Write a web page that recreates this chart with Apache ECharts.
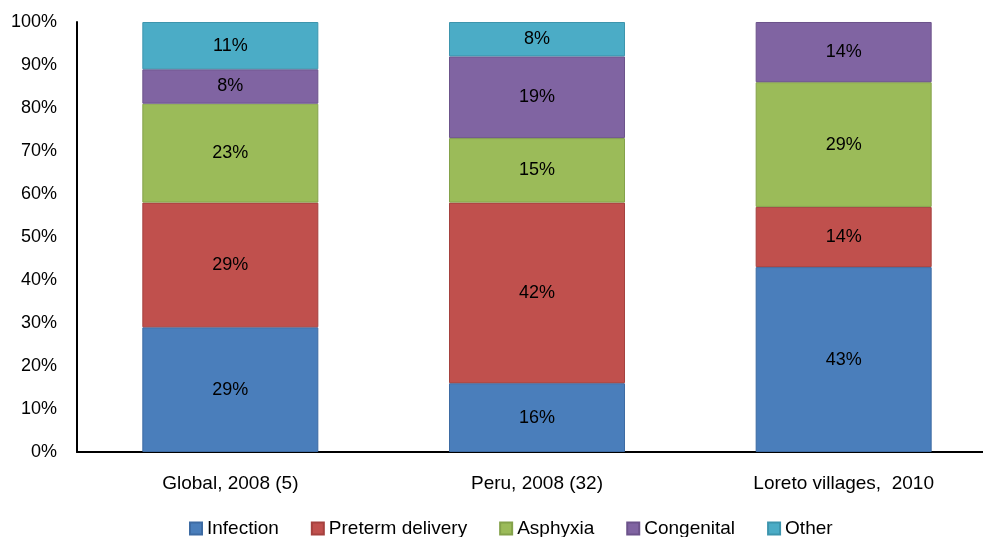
<!DOCTYPE html>
<html>
<head>
<meta charset="utf-8">
<script src="https://cdn.jsdelivr.net/npm/echarts@6/dist/echarts.min.js"></script>
<style>
  html, body { margin: 0; padding: 0; background: #fff; overflow: hidden; }
  /* the x axis runs on past the right edge of the picture */
  #chart { width: 997px; height: 537px; }
</style>
</head>
<body>
<div id="chart"></div>
<script>
// categories and shares (%)
const categories = ['Global, 2008 (5)', 'Peru, 2008 (32)', 'Loreto villages,  2010'];
const infection = [29, 16, 43];
const preterm = [29, 42, 14];
const asphyxia = [23, 15, 29];
const congenital = [8, 19, 14];
const other = [11, 8, 0];
const yTicks = [0, 10, 20, 30, 40, 50, 60, 70, 80, 90, 100];

const font = 'Liberation Sans, Arial, sans-serif';

function makeSeries(name, data, color, border) {
  return {
    name: name,
    type: 'bar',
    stack: 'total',
    // a 0% share draws nothing
    data: data.map(v => v === 0 ? null : v),
    barWidth: 176,
    itemStyle: { color: color, borderColor: border, borderWidth: 1 },
    label: {
      show: true,
      position: 'inside',
      color: '#000',
      fontFamily: font,
      fontSize: 18,
      formatter: p => p.value ? p.value + '%' : ''
    }
  };
}

let myChart = echarts.init(document.getElementById('chart'));
myChart.setOption({
  animation: false,
  grid: { left: 77, top: 22, right: 0, height: 430, containLabel: false },
  legend: {
    bottom: -6,
    left: 184,
    itemWidth: 12,
    itemHeight: 12,
    itemGap: 32,
    icon: 'rect',
    textStyle: { fontFamily: font, fontSize: 19, color: '#000' },
    data: ['Infection', 'Preterm delivery', 'Asphyxia', 'Congenital', 'Other']
  },
  xAxis: {
    type: 'category',
    data: categories,
    axisLine: { lineStyle: { color: '#000', width: 2 } },
    axisTick: { show: false },
    axisLabel: { margin: 22, fontFamily: font, fontSize: 19, color: '#000' }
  },
  yAxis: {
    type: 'value',
    min: yTicks[0],
    max: yTicks[yTicks.length - 1],
    interval: 10,
    axisLine: { show: true, lineStyle: { color: '#000', width: 2 } },
    axisTick: { show: false },
    splitLine: { show: false },
    axisLabel: { margin: 20, fontFamily: font, fontSize: 18, color: '#000', formatter: '{value}%' }
  },
  series: [
    makeSeries('Infection', infection, '#4a7ebb', '#3d6ba3'),
    makeSeries('Preterm delivery', preterm, '#c0504d', '#a5413e'),
    makeSeries('Asphyxia', asphyxia, '#9bbb59', '#84a24a'),
    makeSeries('Congenital', congenital, '#8064a2', '#6c538b'),
    makeSeries('Other', other, '#4bacc6', '#3d95ad')
  ]
});
</script>
</body>
</html>
